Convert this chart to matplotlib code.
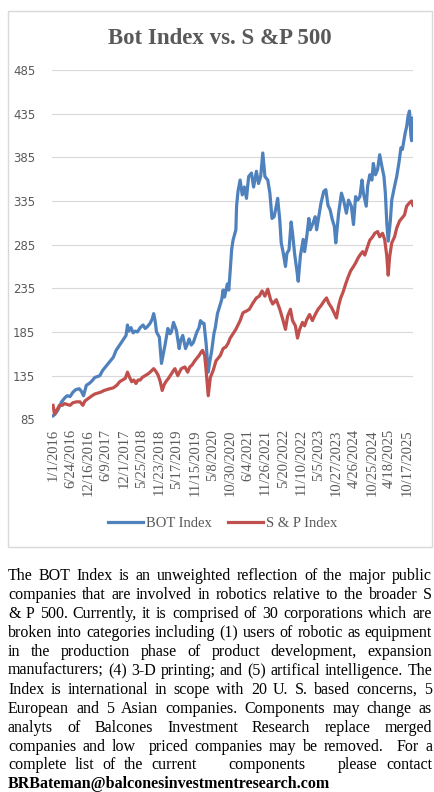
import re

import matplotlib
matplotlib.use("Agg")
import matplotlib.pyplot as plt
from matplotlib.patches import Rectangle

# weekly series, x = weeks since 1/1/2016
bot_week = [0, 3, 7, 12, 17, 20, 24, 28, 32, 37, 40, 43, 47, 51, 55, 59, 63, 66, 70, 74,
            78, 82, 85, 89, 94, 99, 103, 105, 107, 110, 113, 116, 119, 123, 127, 130, 133,
            137, 140, 142, 144, 146, 150, 153, 156, 158, 162, 165, 167, 170, 174, 178, 180,
            183, 187, 190, 192, 195, 198, 201, 203, 206, 208, 211, 213, 216, 219, 221, 224,
            227, 229, 232, 235, 238, 240, 242, 246, 248, 250, 252, 254, 256, 258, 259, 261,
            264, 267, 270, 273, 276, 280, 283, 287, 290, 293, 296, 299, 303, 306, 309, 312,
            315, 317, 320, 322, 325, 328, 330, 333, 336, 338, 341, 344, 346, 349, 353, 355,
            358, 361, 363, 367, 370, 372, 375, 378, 382, 385, 388, 391, 394, 397, 399, 403,
            407, 410, 414, 417, 421, 424, 427, 430, 433, 436, 438, 442, 444, 447, 450, 452,
            455, 458, 461, 464, 467, 469, 471, 473, 476, 478, 482, 485, 488, 491, 493, 497,
            499, 501, 503, 505, 506, 508]
bot_value = [89, 91, 96, 105, 110, 112, 111, 116, 119, 120, 117, 112, 124, 126, 129, 133, 134,
             135, 141, 145, 149, 153, 156, 164, 170, 176, 181, 193, 186, 190, 184, 186, 185,
             190, 193, 189, 191, 195, 200, 206, 198, 185, 179, 149, 162, 170, 189, 183, 185,
             196, 187, 166, 175, 181, 166, 172, 177, 170, 173, 180, 185, 190, 198, 195, 195,
             172, 139, 150, 164, 183, 190, 206, 214, 222, 233, 225, 240, 233, 255, 279, 290,
             296, 302, 329, 346, 359, 342, 351, 338, 363, 367, 351, 369, 355, 363, 390, 363,
             359, 344, 315, 317, 329, 338, 313, 287, 275, 260, 275, 279, 311, 298, 274, 256,
             243, 272, 291, 277, 294, 315, 302, 310, 317, 302, 317, 332, 346, 348, 330, 325,
             314, 306, 287, 321, 344, 336, 321, 336, 329, 308, 340, 336, 340, 359, 344, 329,
             352, 365, 359, 378, 365, 371, 388, 375, 363, 344, 310, 289, 312, 336, 352, 363,
             378, 396, 394, 413, 420, 432, 438, 410, 404, 430]

sp_week = [0, 2, 5, 9, 13, 16, 20, 24, 28, 33, 38, 42, 45, 50, 55, 59, 63, 67, 72, 76, 80,
           85, 90, 94, 98, 102, 105, 108, 111, 114, 117, 120, 123, 126, 130, 134, 137, 142,
           145, 148, 151, 154, 157, 160, 163, 167, 170, 172, 176, 179, 181, 186, 190, 193,
           196, 200, 203, 206, 209, 211, 214, 216, 219, 222, 226, 230, 233, 236, 240, 244,
           247, 250, 254, 258, 261, 264, 268, 273, 277, 282, 287, 291, 295, 299, 303, 307,
           310, 315, 320, 324, 328, 331, 335, 338, 342, 345, 348, 352, 355, 358, 362, 366,
           370, 374, 378, 383, 386, 389, 393, 396, 400, 403, 406, 409, 413, 416, 420, 424,
           427, 430, 433, 437, 440, 444, 447, 451, 454, 458, 461, 465, 468, 471, 473, 475,
           478, 482, 485, 489, 492, 496, 499, 503, 506, 508]
sp_value = [101, 91, 95, 101, 101, 103, 102, 101, 104, 105, 105, 101, 106, 109, 112, 114, 115,
            116, 118, 119, 120, 121, 124, 128, 130, 132, 139, 133, 128, 130, 126, 130, 130,
            133, 135, 137, 139, 143, 140, 136, 129, 118, 125, 129, 132, 137, 141, 143, 135,
            140, 143, 145, 139, 145, 147, 152, 155, 158, 162, 164, 158, 141, 112, 133, 141,
            152, 155, 158, 166, 168, 172, 178, 183, 188, 193, 198, 207, 209, 211, 218, 224,
            226, 232, 226, 234, 222, 217, 222, 211, 200, 188, 203, 211, 198, 192, 178, 188,
            196, 192, 199, 205, 198, 205, 211, 215, 221, 224, 218, 213, 208, 201, 215, 224,
            230, 240, 247, 255, 260, 264, 269, 273, 277, 273, 283, 290, 294, 298, 300, 294,
            298, 291, 272, 250, 271, 287, 294, 304, 312, 315, 319, 329, 333, 335, 330]

tick_weeks = list(range(0, 501, 25))
tick_labels = ["1/1/2016", "6/24/2016", "12/16/2016", "6/9/2017", "12/1/2017", "5/25/2018",
               "11/23/2018", "5/17/2019", "11/15/2019", "5/8/2020", "10/30/2020", "6/4/2021",
               "11/26/2021", "5/20/2022", "11/10/2022", "5/5/2023", "10/27/2023", "4/26/2024",
               "10/25/2024", "4/18/2025", "10/17/2025"]
y_ticks = [85, 135, 185, 235, 285, 335, 385, 435, 485]

note_lines = [
    "The BOT Index is an unweighted reflection of the major public",
    "companies that are involved in robotics relative to the broader S",
    "& P 500. Currently, it is comprised of 30 corporations which are",
    "broken into categories including (1) users of robotic as equipment",
    "in the production phase of product development, expansion",
    "manufacturers; (4) 3-D printing; and (5) artifical intelligence. The",
    "Index is international in scope with 20 U. S. based concerns, 5",
    "European and 5 Asian companies. Components may change as",
    "analyts of Balcones Investment Research replace merged",
    "companies and low  priced companies may be removed.  For a",
    "complete list of the current    components    please contact",
]
contact = "BRBateman@balconesinvestmentresearch.com"

W, H = 435, 792
GRAY = "#595959"
SERIF = "Liberation Serif"

fig = plt.figure(figsize=(W / 100, H / 100), dpi=100)
fig.patches.append(Rectangle((8 / W, 1 - 547 / H), 424 / W, 536 / H, fill=False,
                             edgecolor="#d9d9d9", lw=1, transform=fig.transFigure))

ax = fig.add_axes([52 / W, 1 - 419.3 / H, 361 / W, 349.3 / H])
l1, = ax.plot(bot_week, bot_value, color="#4f81bd", lw=2.3, solid_joinstyle="round")
l2, = ax.plot(sp_week, sp_value, color="#c0504d", lw=2.3, solid_joinstyle="round")
ax.set_xlim(-1.5, 508)
ax.set_ylim(85, 485)
ax.set_yticks(y_ticks)
ax.set_xticks(tick_weeks)
ax.set_xticklabels(tick_labels, rotation=90, fontsize=10.5, family=SERIF, color=GRAY)
ax.tick_params(axis="both", length=0)
ax.tick_params(axis="x", pad=7)
ax.tick_params(axis="y", pad=12, labelsize=8.5, labelcolor=GRAY)
ax.grid(axis="y", color="#d9d9d9", lw=0.8)
ax.set_axisbelow(True)
for s in ax.spines.values():
    s.set_visible(False)

fig.text(219.5 / W, 1 - 38 / H, "Bot Index vs. S &P 500", ha="center", va="center",
         fontsize=16.5, fontweight="bold", family=SERIF, color=GRAY)

fig.legend([l1, l2], ["BOT Index", "S & P Index"], loc="center", ncol=2,
           bbox_to_anchor=(222.5 / W, 1 - 523 / H), frameon=False,
           prop={"family": SERIF, "size": 10.5}, labelcolor=GRAY,
           handlelength=2.4, handletextpad=0.2, columnspacing=1.1)

# justified note under the chart; every space character stretches by the same amount
renderer = fig.canvas.get_renderer()
x0, x1 = 8, 432


def width_of(s, size, weight="normal"):
    t = fig.text(0, 0, s, fontsize=size, family=SERIF, fontweight=weight)
    w = t.get_window_extent(renderer).width
    t.remove()
    return w


widest = max(width_of(" ".join(l.split()), 10) for l in note_lines)
size = 10 * (x1 - x0) / widest * 0.995

y = 580.5
for line in note_lines:
    words = line.split()
    spaces = [len(s) for s in re.findall(r" +", line.strip())]
    texts = [fig.text(0, 1 - y / H, w, fontsize=size, family=SERIF, va="baseline",
                      color="black") for w in words]
    widths = [t.get_window_extent(renderer).width for t in texts]
    gap = (x1 - x0 - sum(widths)) / sum(spaces)
    x = x0
    for i, (t, w) in enumerate(zip(texts, widths)):
        t.set_x(x / W)
        if i < len(spaces):
            x += w + gap * spaces[i]
    y += 18.9
fig.text(x0 / W, 1 - y / H, contact, fontsize=size, family=SERIF, fontweight="bold",
         va="baseline", color="black")

fig.savefig("out.png", dpi=100)
